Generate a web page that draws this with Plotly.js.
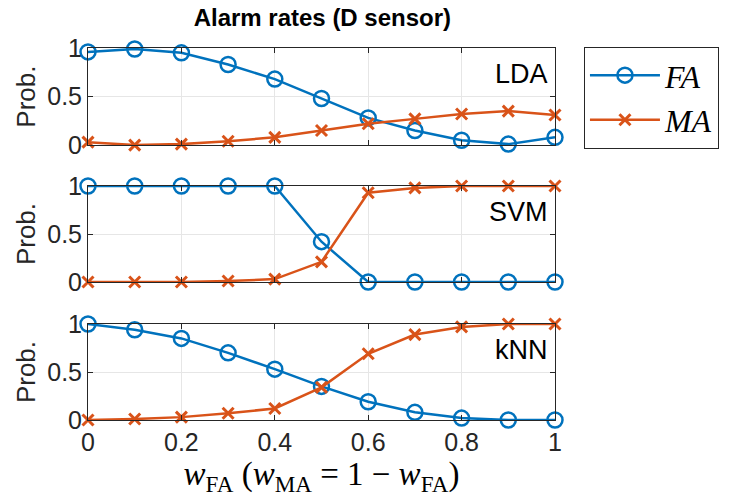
<!DOCTYPE html>
<html><head><meta charset="utf-8">
<script src="https://cdn.plot.ly/plotly-3.0.1.min.js"></script>
<style>body{margin:0;background:#fff}#c{width:731px;height:500px}</style>
</head><body><div id="c"></div>
<script>
const weights = [0,0.1,0.2,0.3,0.4,0.5,0.6,0.7,0.8,0.9,1];
const ldaFA = [0.96,0.99,0.95,0.83,0.68,0.48,0.28,0.15,0.05,0.01,0.08];
const ldaMA = [0.03,0.0,0.01,0.04,0.08,0.15,0.22,0.27,0.32,0.35,0.31];
const svmFA = [1,1,1,1,1,0.42,0,0,0,0,0];
const svmMA = [0,0,0,0.01,0.03,0.21,0.93,0.98,1,1,1];
const knnFA = [1.0,0.94,0.85,0.70,0.53,0.35,0.19,0.08,0.02,0.0,0.0];
const knnMA = [0,0.01,0.03,0.07,0.12,0.34,0.69,0.89,0.97,1.0,1.0];
const panelNames = ['LDA','SVM','kNN'];
const xTicks = [0,0.2,0.4,0.6,0.8,1];
const xTickText = ['0','0.2','0.4','0.6','0.8','1'];
const yTicks = [0,0.5,1];
const yTickText = ['0','0.5','1'];

const blue = '#0072BD', orange = '#D95319';
const sans = 'Liberation Sans, Arial, sans-serif';
const serif = 'Liberation Serif, DejaVu Serif, serif';
const faSets = [ldaFA, svmFA, knnFA];
const maSets = [ldaMA, svmMA, knnMA];
const traces = [];
for (let i=0;i<3;i++){
  const ya = i===0 ? 'y' : 'y'+(i+1);
  const xa = i===0 ? 'x' : 'x'+(i+1);
  traces.push({x:weights,y:faSets[i],xaxis:xa,yaxis:ya,type:'scatter',mode:'lines+markers',
    name:'<i>FA</i>',showlegend:i===0,cliponaxis:false,
    line:{color:blue,width:2.5},marker:{symbol:'circle-open',size:15,color:blue,line:{width:2.5,color:blue}}});
  traces.push({x:weights,y:maSets[i],xaxis:xa,yaxis:ya,type:'scatter',mode:'lines+markers',
    name:'<i>MA</i>',showlegend:i===0,cliponaxis:false,
    line:{color:orange,width:2.5},marker:{symbol:'x-thin-open',size:11,color:orange,line:{width:3,color:orange}}});
}
const tickFont = {family:sans,size:25,color:'#262626'};
const domains = [[0.739,1],[0.371,0.629],[0,0.258]];
const layout = {
  width:731,height:500,margin:{l:88,r:174,t:48,b:80},
  paper_bgcolor:'#fff',plot_bgcolor:'#fff',
  title:{text:'<b>Alarm rates (D sensor)</b>',font:{family:sans,size:24,color:'#000'},x:0.441,xanchor:'center',y:0.964,yanchor:'middle'},
  showlegend:true,
  legend:{x:1.062,xanchor:'left',y:1.003,yanchor:'top',bordercolor:'#262626',borderwidth:1,
    font:{family:serif,size:32,color:'#000'},itemwidth:70,tracegroupgap:0,bgcolor:'#fff'},
  annotations:[],
};
for (let i=0;i<3;i++){
  const sx = i===0?'':(i+1);
  layout['xaxis'+sx] = {domain:[0,1],range:[0,1],anchor:'y'+sx,tickvals:xTicks,ticktext:xTickText,
    showticklabels:i===2,ticks:'inside',ticklen:5,tickcolor:'#262626',showline:true,mirror:'ticks',linecolor:'#262626',linewidth:1,
    showgrid:true,gridcolor:'#e6e6e6',gridwidth:1,zeroline:false,tickfont:tickFont,
    title: i===2 ? {text:'<i>w</i><sub>FA</sub> (<i>w</i><sub>MA</sub> = 1 − <i>w</i><sub>FA</sub>)',font:{family:serif,size:33,color:'#000'},standoff:0} : undefined};
  layout['yaxis'+sx] = {domain:domains[i],range:[0,1],anchor:'x'+sx,tickvals:yTicks,ticktext:yTickText,
    ticks:'inside',ticklen:5,tickcolor:'#262626',showline:true,mirror:'ticks',linecolor:'#262626',linewidth:1,
    showgrid:true,gridcolor:'#e6e6e6',zeroline:false,tickfont:tickFont,
    title:{text:'Prob.',font:{family:sans,size:26,color:'#262626'},standoff:4}};
  layout.annotations.push({xref:'x'+sx+' domain',yref:'y'+sx+' domain',x:0.99,y:0.73,xanchor:'right',yanchor:'middle',
    text:panelNames[i],showarrow:false,font:{family:sans,size:27,color:'#000'}});
}
Plotly.newPlot('c',traces,layout,{displayModeBar:false,staticPlot:true});
</script></body></html>
